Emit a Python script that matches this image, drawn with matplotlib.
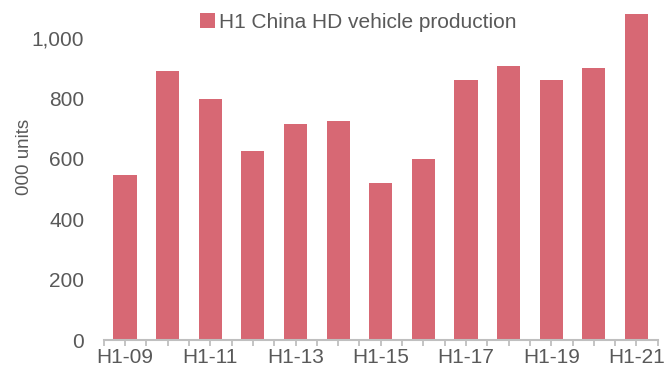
import numpy as np
import matplotlib
matplotlib.use('Agg')
import matplotlib.pyplot as plt

plt.rcParams['font.family'] = ['Liberation Sans', 'DejaVu Sans']

periods = ['H1-09', 'H1-10', 'H1-11', 'H1-12', 'H1-13', 'H1-14', 'H1-15',
           'H1-16', 'H1-17', 'H1-18', 'H1-19', 'H1-20', 'H1-21']
production = [546, 891, 798, 626, 715, 725, 520, 599, 861, 907, 861, 901, 1079]
yticks = [0, 200, 400, 600, 800, 1000]
ytick_labels = ['0', '200', '400', '600', '800', '1,000']

bar_color = '#d76874'
text_color = '#595959'
axis_color = '#bfbfbf'

fig = plt.figure(figsize=(6.66, 3.74), dpi=100)
ax = fig.add_axes([0.1557, 0.0909, 0.832, 0.888])

x = np.arange(len(periods))
ax.bar(x, production, width=0.54, color=bar_color,
       label='H1 China HD vehicle production')

ax.set_xlim(-0.5, len(periods) - 0.5)
ax.set_ylim(0, 1100)

ax.set_yticks(yticks)
ax.set_yticklabels(ytick_labels, fontsize=15, color=text_color)
ax.tick_params(axis='y', length=0, pad=14)

ax.set_xticks(x)
ax.set_xticklabels([p if i % 2 == 0 else '' for i, p in enumerate(periods)],
                   fontsize=15, color=text_color)
ax.set_xticks(np.arange(-0.5, len(periods)), minor=True)
ax.tick_params(axis='x', which='both', length=4, width=1.3, color=axis_color,
               pad=2)

for s in ['top', 'right', 'left']:
    ax.spines[s].set_visible(False)
ax.spines['bottom'].set_color(axis_color)
ax.spines['bottom'].set_linewidth(1.5)

ax.set_ylabel('000 units', fontsize=13.5, color=text_color, labelpad=6)
ax.yaxis.set_label_coords(-0.127, 0.55)

ax.legend(loc='center', bbox_to_anchor=(0.538, 0.941),
          bbox_transform=fig.transFigure, frameon=False, fontsize=15,
          handlelength=0.7, handleheight=0.7, handletextpad=0.2,
          borderpad=0, labelcolor=text_color)

fig.savefig('out.png', dpi=100)
